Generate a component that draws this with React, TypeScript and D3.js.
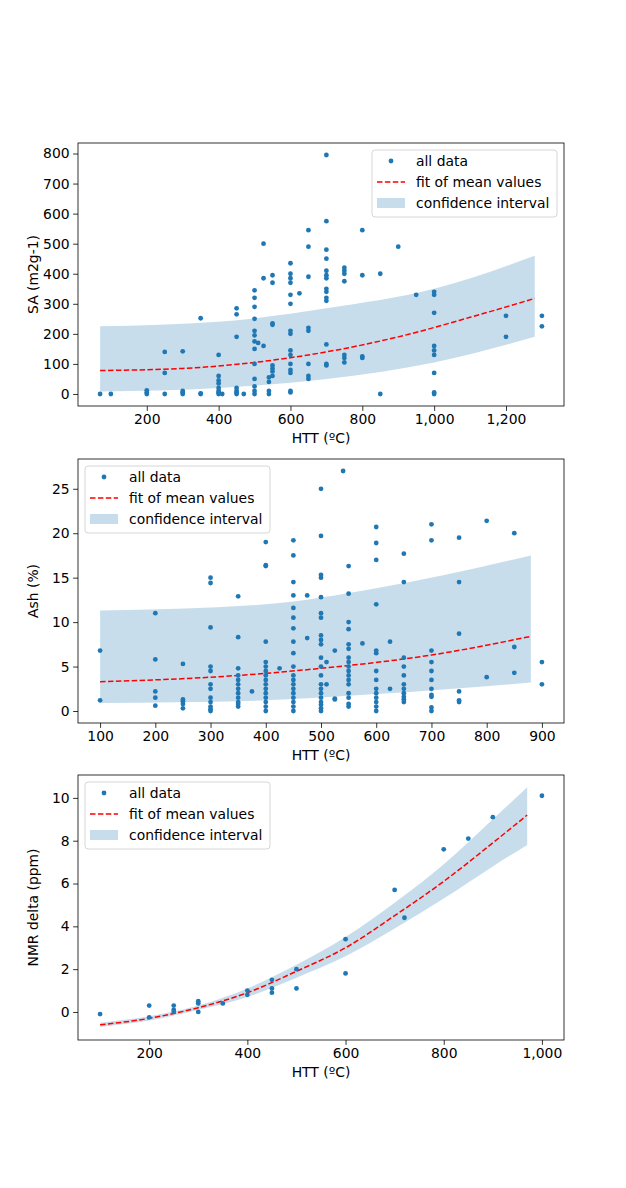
import { useEffect, useRef } from "react";
import * as d3 from "d3";

// ---- panel 1: SA ----
const saCols: [number, number[]][] = [
  [70, [0]], [100, [0]], [200, [0, 5, 12]], [250, [0, 70, 140]], [300, [0, 5, 10, 142]],
  [350, [0, 2, 252]], [400, [0, 5, 10, 20, 35, 45, 60, 130]], [410, [0]],
  [450, [0, 5, 10, 20, 190, 265, 285]], [470, [0]],
  [500, [0, 10, 25, 50, 100, 150, 175, 195, 210, 250, 290, 320, 345]], [510, [170]],
  [525, [160, 385, 500]], [540, [0, 10, 40, 55]], [550, [60, 75, 85, 95, 230, 235, 370, 395]],
  [600, [5, 10, 70, 80, 100, 130, 145, 200, 210, 300, 330, 370, 385, 400, 435]], [625, [335]],
  [650, [50, 60, 100, 210, 220, 390, 490, 545]],
  [700, [95, 100, 165, 310, 320, 340, 350, 385, 395, 410, 450, 480, 575, 795]],
  [750, [105, 120, 130, 375, 400, 410, 420]], [800, [120, 125, 395, 545]], [850, [0, 400]],
  [900, [490]], [950, [330]], [1000, [0, 5, 70, 130, 145, 160, 270, 330, 340]],
  [1200, [190, 260]], [1300, [225, 260]],
];
const saFitX = [70, 300, 500, 700, 900, 1100, 1280];
const saFit = [78, 85, 105, 140, 190, 255, 318];
const saBandX = [70, 400, 700, 1000, 1280];
const saUpper = [225, 240, 285, 350, 460];
const saLower = [8, 20, 50, 105, 190];

// ---- panel 2: Ash ----
const ashCols: [number, number[]][] = [
  [100, [1.2, 6.8]], [200, [0.6, 1.5, 2.2, 5.8, 11]], [250, [0.3, 0.8, 1.1, 1.3, 5.3]],
  [300, [0, 0.2, 0.5, 1.0, 1.5, 2.5, 3.0, 4.5, 5, 9.4, 14.4, 15]],
  [350, [0.5, 0.8, 1, 1.5, 2, 2.5, 3, 3.5, 4, 4.8, 8.3, 12.9]], [375, [2.2]],
  [400, [0, 0.5, 1, 1.5, 2, 2.5, 3, 3.5, 4, 4.5, 5, 5.5, 7.8, 16.3, 16.4, 19]], [425, [4.8]],
  [450, [0, 0.5, 1, 1.5, 2, 2.5, 3, 3.5, 4, 5, 6.5, 7.8, 9.3, 10.5, 11.6, 13, 14.5, 17.5, 19.2]],
  [475, [8.2, 13]],
  [500, [0, 0.3, 0.7, 1, 1.5, 2, 2.5, 3, 4, 5, 6, 7.5, 8, 8.5, 10.5, 11, 12.8, 15, 15.3, 19.7, 25]],
  [510, [3, 5.5]], [525, [1.3, 1.4, 6.8]], [540, [27]],
  [550, [0.5, 0.8, 1.5, 2, 3, 3.5, 4, 4.5, 5, 5.5, 6, 7, 7.5, 9.2, 10, 13.2, 16.3]], [575, [7.6]],
  [600, [0, 0.5, 1, 1.5, 2, 2.5, 3.5, 4.5, 6.5, 6.8, 12, 17, 18.9, 20.7]], [625, [2.5, 7.8]],
  [650, [1, 1.3, 1.6, 2, 2.5, 3, 4, 5, 6, 14.5, 17.7]],
  [700, [0, 0.4, 1.6, 1.8, 2.5, 3.5, 4.5, 5.5, 6.8, 19.2, 21]],
  [750, [1, 1.2, 2.2, 8.7, 14.5, 19.5]], [800, [3.8, 21.4]], [850, [4.3, 7.2, 20]], [900, [3, 5.5]],
];
const ashFitX = [100, 300, 500, 700, 880];
const ashFit = [3.3, 3.8, 4.8, 6.3, 8.4];
const ashBandX = [100, 400, 600, 880];
const ashUpper = [11.3, 12, 13.8, 17.5];
const ashLower = [0.9, 1.2, 1.9, 3.2];

// ---- panel 3: NMR ----
const nmrCols: [number, number[]][] = [
  [100, [-0.1]], [200, [0.3, -0.25]], [250, [0.3, 0.1, 0]], [300, [0.5, 0.4, 0]], [350, [0.4]],
  [400, [1, 0.8]], [450, [1.5, 1.1, 0.9]], [500, [2, 1.1]], [600, [3.4, 1.8]], [700, [5.7]],
  [720, [4.4]], [800, [7.6]], [850, [8.1]], [900, [9.1]], [1000, [10.1]],
];
const nmrFitX = [100, 200, 300, 400, 500, 600, 700, 800, 900, 970];
const nmrFit = [-0.6, -0.3, 0.2, 0.9, 1.9, 3.0, 4.5, 6.1, 7.9, 9.2];
const nmrUpper = [-0.5, -0.2, 0.3, 1.1, 2.2, 3.5, 5.1, 6.9, 9.0, 10.5];
const nmrLower = [-0.7, -0.4, 0.1, 0.7, 1.6, 2.6, 3.9, 5.3, 6.8, 7.8];

interface Panel {
  top: number; bottom: number;
  xDom: [number, number]; yDom: [number, number];
  xTicks: number[]; yTicks: number[];
  ylabel: string; cols: [number, number[]][];
  fitX: number[]; fit: number[]; bandX: number[]; upper: number[]; lower: number[];
  legendRight: boolean;
}

const panels: Panel[] = [
  { top: 143, bottom: 406, xDom: [8.5, 1361.5], yDom: [-40, 835],
    xTicks: [200, 400, 600, 800, 1000, 1200], yTicks: [0, 100, 200, 300, 400, 500, 600, 700, 800],
    ylabel: "SA (m2g-1)", cols: saCols, fitX: saFitX, fit: saFit, bandX: saBandX, upper: saUpper, lower: saLower, legendRight: true },
  { top: 459, bottom: 723, xDom: [60, 940], yDom: [-1.35, 28.35],
    xTicks: [100, 200, 300, 400, 500, 600, 700, 800, 900], yTicks: [0, 5, 10, 15, 20, 25],
    ylabel: "Ash (%)", cols: ashCols, fitX: ashFitX, fit: ashFit, bandX: ashBandX, upper: ashUpper, lower: ashLower, legendRight: false },
  { top: 775, bottom: 1040, xDom: [55, 1045], yDom: [-1.31, 11.07],
    xTicks: [200, 400, 600, 800, 1000], yTicks: [0, 2, 4, 6, 8, 10],
    ylabel: "NMR delta (ppm)", cols: nmrCols, fitX: nmrFitX, fit: nmrFit, bandX: nmrFitX, upper: nmrUpper, lower: nmrLower, legendRight: false },
];

const LEFT = 78, RIGHT = 564;
const BLUE = "#1f77b4";
const FONT = "DejaVu Sans, sans-serif";

export default function App() {
  const ref = useRef<SVGSVGElement>(null);

  useEffect(() => {
    const svg = d3.select(ref.current!);
    svg.selectAll("*").remove();

    panels.forEach((p) => {
      const x = d3.scaleLinear().domain(p.xDom).range([LEFT, RIGHT]);
      const y = d3.scaleLinear().domain(p.yDom).range([p.bottom, p.top]);
      const g = svg.append("g");

      const band = d3.area<number>()
        .x((_, i) => x(p.bandX[i])).y0((_, i) => y(p.lower[i])).y1((_, i) => y(p.upper[i]))
        .curve(d3.curveMonotoneX);
      g.append("path").datum(p.bandX).attr("d", band).attr("fill", BLUE).attr("fill-opacity", 0.25);

      const line = d3.line<number>().x((_, i) => x(p.fitX[i])).y((d) => y(d)).curve(d3.curveMonotoneX);
      g.append("path").datum(p.fit).attr("d", line).attr("fill", "none")
        .attr("stroke", "red").attr("stroke-width", 1.5).attr("stroke-dasharray", "5.5,2.4");

      const pts = p.cols.flatMap(([xv, vs]) => vs.map((v) => [xv, v] as [number, number]));
      g.selectAll("circle.pt").data(pts).join("circle")
        .attr("cx", (d) => x(d[0])).attr("cy", (d) => y(d[1])).attr("r", 2.4).attr("fill", BLUE);

      // frame
      g.append("rect").attr("x", LEFT).attr("y", p.top).attr("width", RIGHT - LEFT)
        .attr("height", p.bottom - p.top).attr("fill", "none").attr("stroke", "#000").attr("stroke-width", 0.8);

      const xa = g.append("g").attr("transform", `translate(0,${p.bottom})`)
        .call(d3.axisBottom(x).tickValues(p.xTicks).tickSize(4.9).tickPadding(3.5));
      const ya = g.append("g").attr("transform", `translate(${LEFT},0)`)
        .call(d3.axisLeft(y).tickValues(p.yTicks).tickSize(4.9).tickPadding(3.5));
      [xa, ya].forEach((a) => {
        a.select(".domain").remove();
        a.selectAll("text").attr("font-size", 13.9).attr("font-family", FONT).attr("fill", "#000");
        a.selectAll("line").attr("stroke", "#000").attr("stroke-width", 0.8);
      });

      g.append("text").attr("x", (LEFT + RIGHT) / 2).attr("y", p.bottom + 37)
        .attr("text-anchor", "middle").attr("font-size", 13.9).attr("font-family", FONT).text("HTT (ºC)");
      const cy = (p.top + p.bottom) / 2;
      g.append("text").attr("transform", `translate(38,${cy}) rotate(-90)`)
        .attr("text-anchor", "middle").attr("font-size", 13.9).attr("font-family", FONT).text(p.ylabel);

      // legend
      const lw = 185, lh = 67;
      const lx = p.legendRight ? RIGHT - 7 - lw : LEFT + 7;
      const ly = p.top + 7;
      const lg = g.append("g").attr("transform", `translate(${lx},${ly})`);
      lg.append("rect").attr("width", lw).attr("height", lh).attr("rx", 3)
        .attr("fill", "#fff").attr("fill-opacity", 0.8).attr("stroke", "#ccc").attr("stroke-width", 0.8);
      const items = ["all data", "fit of mean values", "confidence interval"];
      items.forEach((t, i) => {
        const yy = 11 + i * 21;
        if (i === 0) lg.append("circle").attr("cx", 19).attr("cy", yy).attr("r", 2.4).attr("fill", BLUE);
        if (i === 1) lg.append("line").attr("x1", 5).attr("x2", 33).attr("y1", yy).attr("y2", yy)
          .attr("stroke", "red").attr("stroke-width", 1.5).attr("stroke-dasharray", "5.5,2.4");
        if (i === 2) lg.append("rect").attr("x", 5).attr("y", yy - 5).attr("width", 28).attr("height", 10)
          .attr("fill", BLUE).attr("fill-opacity", 0.25);
        lg.append("text").attr("x", 44).attr("y", yy).attr("dy", "0.35em")
          .attr("font-size", 13.9).attr("font-family", FONT).text(t);
      });
    });
  }, []);

  return (
    <div style={{ position: "absolute", left: 0, top: 0 }}>
      <svg ref={ref} width={626} height={1188} style={{ display: "block", background: "#fff" }} />
    </div>
  );
}
